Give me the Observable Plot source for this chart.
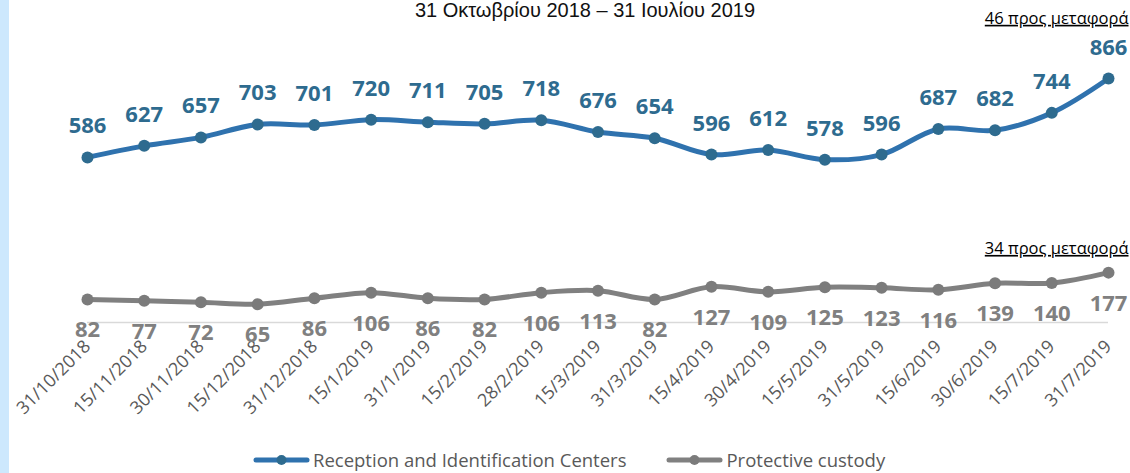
<!DOCTYPE html>
<html>
<head>
<meta charset="utf-8">
<script src="https://cdn.jsdelivr.net/npm/d3@7"></script>
<script src="https://cdn.jsdelivr.net/npm/@observablehq/plot@0.6"></script>
<style>
  html, body { margin: 0; padding: 0; background: #ffffff; width: 1130px; height: 473px; overflow: hidden; }
  #wrap { position: relative; width: 1130px; height: 473px; overflow: hidden; }
  #band { position: absolute; left: 0; top: 0; width: 9px; height: 473px; background: #cde8fd; }
  #title { position: absolute; left: 0; width: 1170px; top: 0px; height: 20px; text-align: center; font-family: "Liberation Sans", Arial, sans-serif; font-size: 20px; line-height: 20px; color: #111111; white-space: nowrap; }
  #chart { position: absolute; left: 0; top: 0; }
  #legend { position: absolute; left: 253px; top: 450px; height: 20px; display: flex; align-items: center; font-family: "Open Sans", sans-serif; font-size: 18.5px; line-height: 20px; color: #595959; white-space: nowrap; }
  #legend .item { display: flex; align-items: center; margin-right: 40px; }
  #legend svg { margin-right: 3px; }
  g[aria-description="transfer-note"] text { text-decoration: underline; }
</style>
</head>
<body>
<div id="wrap">
  <div id="band"></div>
  <div id="chart"></div>
  <div id="title"></div>
  <div id="legend"></div>
</div>
<script>
const dates = ["31/10/2018","15/11/2018","30/11/2018","15/12/2018","31/12/2018","15/1/2019","31/1/2019","15/2/2019","28/2/2019","15/3/2019","31/3/2019","15/4/2019","30/4/2019","15/5/2019","31/5/2019","15/6/2019","30/6/2019","15/7/2019","31/7/2019"];
const ricValues = [586,627,657,703,701,720,711,705,718,676,654,596,612,578,596,687,682,744,866];
const custodyValues = [82,77,72,65,86,106,86,82,106,113,82,127,109,125,123,116,139,140,177];
const seriesNames = ["Reception and Identification Centers", "Protective custody"];
const titleText = "31 Οκτωβρίου 2018 – 31 Ιουλίου 2019";
const ricNote = "46 προς μεταφορά";
const custodyNote = "34 προς μεταφορά";

const blueLine = "#2f72ae", blueDot = "#2e6b8f";
const grayLine = "#808080", grayDot = "#7b7b7b";

const ric = dates.map((d, i) => ({date: d, value: ricValues[i]}));
const cust = dates.map((d, i) => ({date: d, value: custodyValues[i]}));
const lastDate = dates[dates.length - 1];

const chart = Plot.plot({
  width: 1130,
  height: 448,
  marginLeft: 87,
  marginRight: 22,
  marginTop: 78,
  marginBottom: 126,
  style: {fontFamily: "Open Sans, sans-serif", background: "transparent", overflow: "visible"},
  x: {type: "point", domain: dates, padding: 0, round: false, label: null},
  y: {domain: [0, 866], axis: null},
  marks: [
    Plot.ruleY([0], {stroke: "#d9d9d9", strokeWidth: 1.5}),
    Plot.axisX({tickSize: 0, tickPadding: 21, tickRotate: -45, fontSize: 18, fill: "#595959", label: null}),
    Plot.line(cust, {x: "date", y: "value", stroke: grayLine, strokeWidth: 5, curve: "catmull-rom"}),
    Plot.dot(cust, {x: "date", y: "value", r: 6, fill: grayDot}),
    Plot.text(cust, {x: "date", y: "value", text: d => String(d.value), dy: 31, fill: "#808080", fontSize: 22, fontWeight: "bold"}),
    Plot.line(ric, {x: "date", y: "value", stroke: blueLine, strokeWidth: 5, curve: "catmull-rom"}),
    Plot.dot(ric, {x: "date", y: "value", r: 6, fill: blueDot}),
    Plot.text(ric, {x: "date", y: "value", text: d => String(d.value), dy: -31, fill: blueDot, fontSize: 22, fontWeight: "bold"}),
    Plot.text([{date: lastDate, value: ricValues[ricValues.length - 1], note: ricNote}], {x: "date", y: "value", text: "note", dx: 20, dy: -60, textAnchor: "end", fill: "#000", fontSize: 16.5, ariaDescription: "transfer-note"}),
    Plot.text([{date: lastDate, value: custodyValues[custodyValues.length - 1], note: custodyNote}], {x: "date", y: "value", text: "note", dx: 20, dy: -24, textAnchor: "end", fill: "#000", fontSize: 16.5, ariaDescription: "transfer-note"})
  ]
});
document.getElementById("chart").appendChild(chart);
document.getElementById("title").textContent = titleText;

const legend = d3.select("#legend");
[[seriesNames[0], blueLine, blueDot], [seriesNames[1], grayLine, grayDot]].forEach(([name, lc, dc]) => {
  const item = legend.append("div").attr("class", "item");
  const s = item.append("svg").attr("width", 57).attr("height", 14);
  s.append("line").attr("x1", 3).attr("x2", 54).attr("y1", 7).attr("y2", 7).attr("stroke", lc).attr("stroke-width", 5).attr("stroke-linecap", "round");
  s.append("circle").attr("cx", 28.5).attr("cy", 7).attr("r", 5).attr("fill", dc);
  item.append("span").text(name);
});
</script>
</body>
</html>
